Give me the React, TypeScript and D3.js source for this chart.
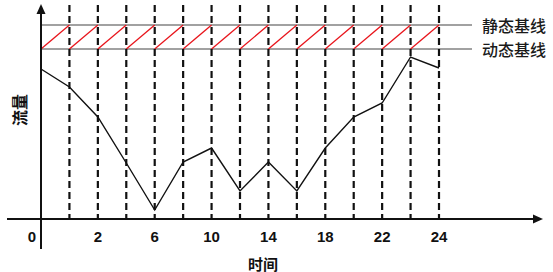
import React from "react";
import * as d3 from "d3";

// slot indices along the time axis (0 = origin, 1..14 = dashed time marks)
const slots = [0, 1, 2, 3, 4, 5, 6, 7, 8, 9, 10, 11, 12, 13, 14];
// flow values read at each slot
const flow = [150, 132, 102, 56, 9, 57, 71, 28, 57, 28, 71, 102, 116, 162, 151];
// tick labels and the slots they sit on
const tickSlots = [0, 2, 4, 6, 8, 10, 12, 14];
const tickLabels = ["0", "2", "6", "10", "14", "18", "22", "24"];
// baselines
const staticBaseline = 194;
const dynamicBaseline = 170;
const baselineLabels = ["静态基线", "动态基线"];

export default function App() {
  const W = 553, H = 272;
  const x = d3.scaleLinear().domain([0, 14]).range([41, 439]);
  const y = d3.scaleLinear().domain([0, 214]).range([219, 5]);
  const line = d3.line<number>().x((_, i) => x(slots[i])).y((d) => y(d));
  const cjk = '"Noto Sans CJK SC", sans-serif';
  const latin = '"Liberation Sans", Arial, sans-serif';
  return (
    <svg width={W} height={H} style={{ position: "absolute", left: 0, top: 0, background: "#fff" }}>
      {/* baselines */}
      {[staticBaseline, dynamicBaseline].map((b, i) => (
        <g key={i}>
          <line x1={x(0)} x2={472} y1={y(b)} y2={y(b)} stroke="#444" strokeWidth={1.2} />
          <text x={482} y={y(b)} dominantBaseline="central" fontFamily={cjk} fontSize={16} fontWeight={500} fill="#1a1a1a">
            {baselineLabels[i]}
          </text>
        </g>
      ))}
      {/* red diagonals */}
      {slots.slice(0, -1).map((s) => (
        <line key={s} x1={x(s)} y1={y(dynamicBaseline)} x2={x(s + 1)} y2={y(staticBaseline)} stroke="#e8141b" strokeWidth={1.3} />
      ))}
      {/* dashed time marks */}
      {slots.slice(1).map((s) => (
        <line key={s} x1={x(s)} x2={x(s)} y1={5} y2={219} stroke="#111" strokeWidth={2.2} strokeDasharray="7,4" />
      ))}
      {/* flow line */}
      <path d={line(flow) || ""} fill="none" stroke="#111" strokeWidth={1.4} />
      {/* axes */}
      <line x1={7} x2={536} y1={219} y2={219} stroke="#111" strokeWidth={2} />
      <path d={`M543,219 L533,214.5 L533,223.5 Z`} fill="#111" />
      <line x1={41} x2={41} y1={12} y2={249} stroke="#111" strokeWidth={2} />
      <path d={`M41,4 L36.5,14 L45.5,14 Z`} fill="#111" />
      {/* tick labels */}
      {tickSlots.map((s, i) => (
        <text key={s} x={s === 0 ? 32 : x(s)} y={236} textAnchor="middle" dominantBaseline="central"
          fontFamily={latin} fontWeight="bold" fontSize={15} fill="#111">
          {tickLabels[i]}
        </text>
      ))}
      {/* axis titles */}
      <text x={263} y={263} textAnchor="middle" dominantBaseline="central" fontFamily={cjk} fontWeight="bold" fontSize={15} fill="#111">时间</text>
      <text transform="translate(19,110) rotate(-90)" textAnchor="middle" dominantBaseline="central" fontFamily={cjk} fontWeight="bold" fontSize={16} fill="#111">流量</text>
    </svg>
  );
}
